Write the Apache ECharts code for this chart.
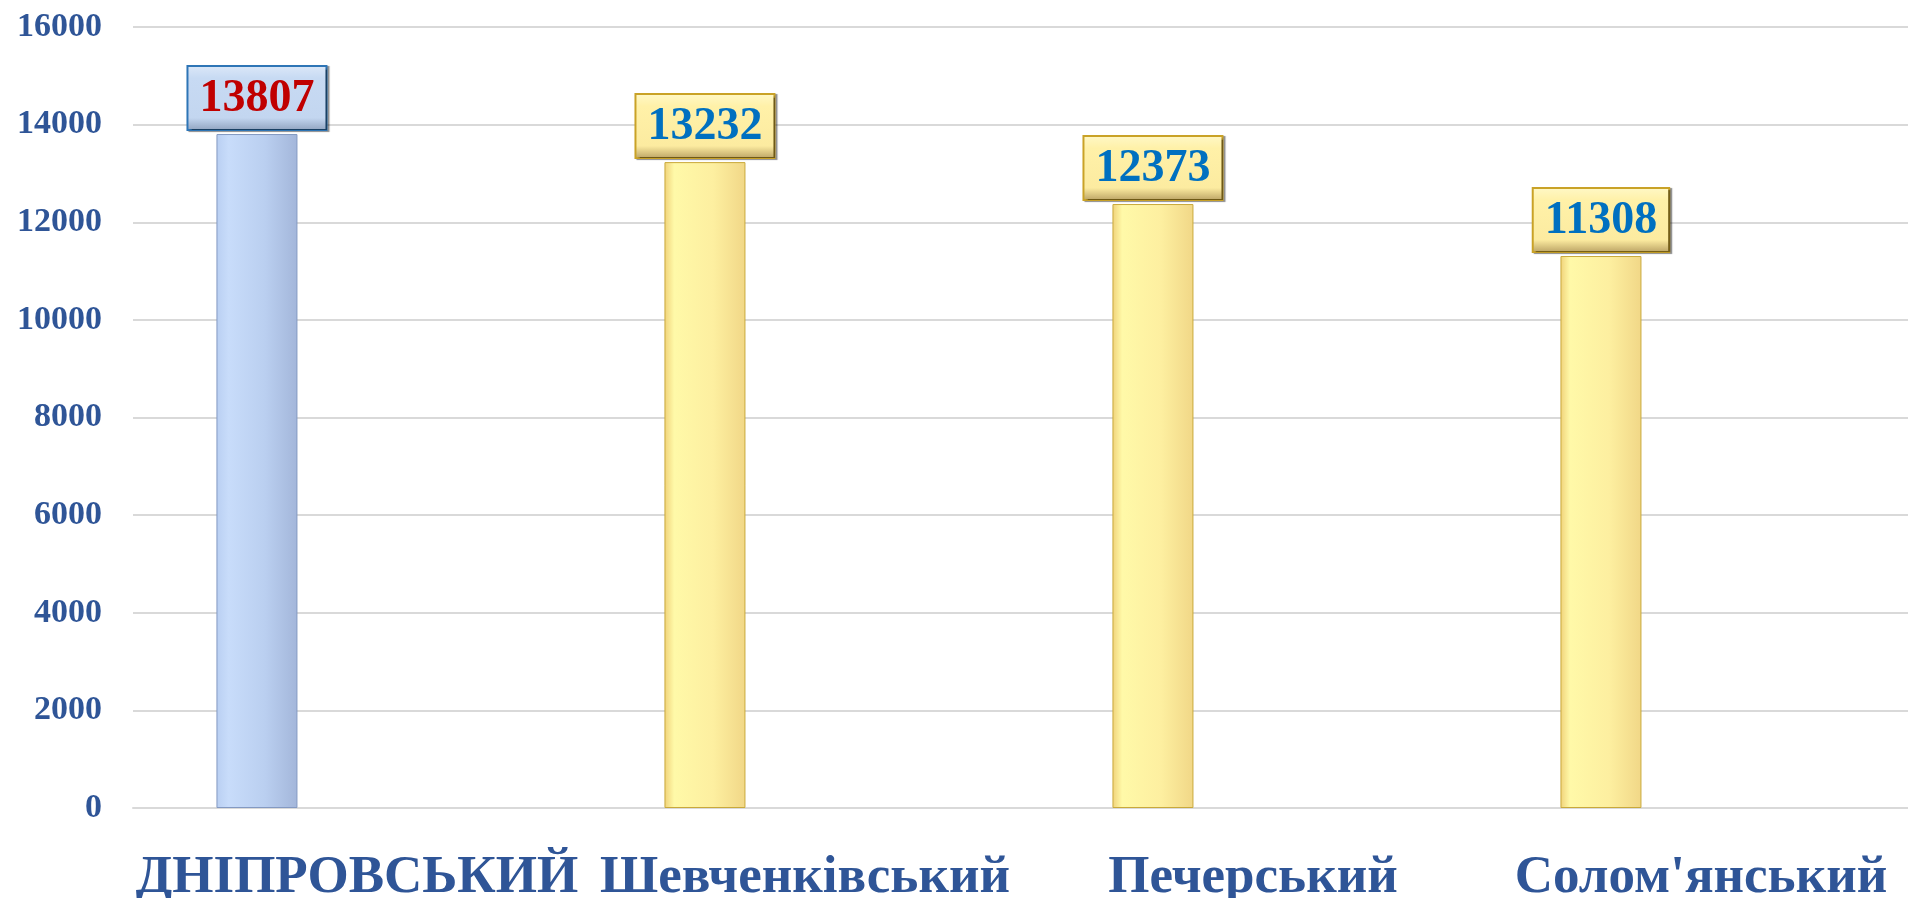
<!DOCTYPE html>
<html>
<head>
<meta charset="utf-8">
<script src="https://cdn.jsdelivr.net/npm/echarts@6/dist/echarts.min.js"></script>
<style>
  html, body { margin: 0; padding: 0; background: #fff; }
  #chart { width: 1908px; height: 898px; }
</style>
</head>
<body>
<div id="chart"></div>
<script>
const categories = ['ДНІПРОВСЬКИЙ', 'Шевченківський', 'Печерський', "Солом'янський"]
const values = [13807, 13232, 12373, 11308]
const yTicks = [0, 2000, 4000, 6000, 8000, 10000, 12000, 14000, 16000]

const serif = '"Liberation Serif", "Times New Roman", serif'
const axisBlue = '#2F5597'

const blueBar = new echarts.graphic.LinearGradient(0, 0, 1, 0, [
    { offset: 0, color: '#B9CFF2' },
    { offset: 0.15, color: '#C8DCFA' },
    { offset: 0.6, color: '#BACFF0' },
    { offset: 1, color: '#A3B6DA' }
])
const yellowBar = new echarts.graphic.LinearGradient(0, 0, 1, 0, [
    { offset: 0, color: '#F0D27A' },
    { offset: 0.12, color: '#FFF9A8' },
    { offset: 0.6, color: '#FDEFA0' },
    { offset: 1, color: '#F1D787' }
])
const blueBox = new echarts.graphic.LinearGradient(0, 0, 0, 1, [
    { offset: 0, color: '#DCE8F8' },
    { offset: 0.2, color: '#C7DAF3' },
    { offset: 0.8, color: '#C3D6F0' },
    { offset: 1, color: '#8EA1BD' }
])
const yellowBox = new echarts.graphic.LinearGradient(0, 0, 0, 1, [
    { offset: 0, color: '#FFF8C8' },
    { offset: 0.2, color: '#FFF1A8' },
    { offset: 0.8, color: '#FCEBA0' },
    { offset: 1, color: '#B8A062' }
])

const barData = values.map((v, i) => {
    const first = i === 0
    return {
        value: v,
        itemStyle: {
            color: first ? blueBar : yellowBar,
            borderColor: first ? '#8399C2' : '#C9A93A',
            borderWidth: 1
        },
        label: {
            color: first ? '#C00000' : '#0070C0',
            backgroundColor: first ? blueBox : yellowBox,
            borderColor: first ? '#2E75B6' : '#C9A227',
            borderWidth: 2
        }
    }
})

const chart = echarts.init(document.getElementById('chart'))

const option = {
    animation: false,
    grid: {
        left: 133,
        width: 1792,
        top: 27,
        bottom: 90,
        containLabel: false,
        outerBoundsMode: 'none'
    },
    xAxis: {
        type: 'category',
        data: categories,
        axisTick: { show: false },
        axisLine: { lineStyle: { color: '#D9D9D9', width: 2 } },
        axisLabel: {
            interval: 0,
            margin: 44,
            fontFamily: serif,
            fontWeight: 'bold',
            fontSize: 53,
            color: axisBlue
        }
    },
    yAxis: {
        type: 'value',
        min: yTicks[0],
        max: yTicks[yTicks.length - 1],
        interval: yTicks[1] - yTicks[0],
        axisLine: { show: false },
        axisTick: { show: false },
        splitLine: { lineStyle: { color: '#D9D9D9', width: 2 } },
        axisLabel: {
            margin: 31,
            fontFamily: serif,
            fontWeight: 'bold',
            fontSize: 34,
            color: axisBlue,
            formatter: (v) => String(v)
        }
    },
    series: [
        {
            type: 'bar',
            data: barData,
            barWidth: 81,
            barGap: '147%',
            label: {
                show: true,
                position: 'top',
                distance: 5,
                fontFamily: serif,
                fontWeight: 'bold',
                fontSize: 46,
                lineHeight: 50,
                padding: [7, 11, 5, 11],
                shadowColor: 'rgba(0,0,0,0.45)',
                shadowOffsetX: 2,
                shadowOffsetY: 1,
                shadowBlur: 1
            }
        },
        {
            // empty companion series, keeps the bars to the left of each band
            type: 'bar',
            data: values.map(() => '-'),
            barWidth: 81
        }
    ]
}

chart.setOption(option)
</script>
</body>
</html>
